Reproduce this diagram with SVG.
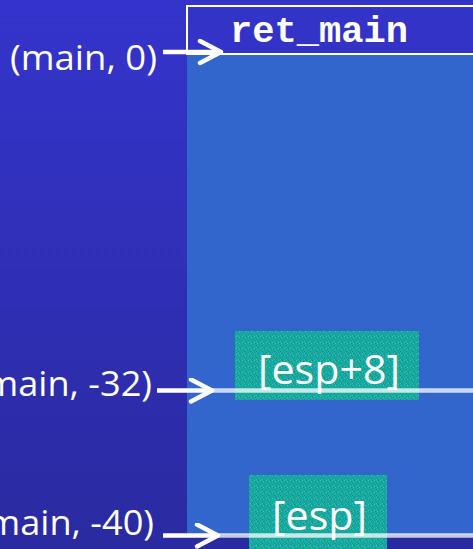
<svg xmlns="http://www.w3.org/2000/svg" width="473" height="549" viewBox="0 0 473 549">
  <defs>
    <linearGradient id="bg" x1="0" y1="0" x2="0" y2="1">
      <stop offset="0" stop-color="#3434cc"/>
      <stop offset="1" stop-color="#2a2aa0"/>
    </linearGradient>
    <!-- dithered teal fill for the register slots -->
    <pattern id="dither" width="6" height="6" patternUnits="userSpaceOnUse">
      <rect width="6" height="6" fill="#12b196"/>
      <rect x="0" y="0" width="1" height="1" fill="#3a6fc6"/>
      <rect x="3" y="1" width="1" height="1" fill="#3a6fc6"/>
      <rect x="1" y="2" width="1" height="1" fill="#2f8cb8"/>
      <rect x="4" y="3" width="1" height="1" fill="#3a6fc6"/>
      <rect x="2" y="4" width="1" height="1" fill="#2f8cb8"/>
      <rect x="5" y="5" width="1" height="1" fill="#3a6fc6"/>
      <rect x="5" y="1" width="1" height="1" fill="#1fd0a8"/>
      <rect x="2" y="0" width="1" height="1" fill="#1fd0a8"/>
      <rect x="0" y="4" width="1" height="1" fill="#2f8cb8"/>
      <rect x="4" y="5" width="1" height="1" fill="#1fd0a8"/>
    </pattern>
    <marker id="head" markerUnits="userSpaceOnUse" markerWidth="30" markerHeight="30" refX="24" refY="13" orient="auto" viewBox="0 0 30 30">
      <path d="M3,2 L24,13 L3,24" fill="none" stroke="#ffffff" stroke-width="4.5" stroke-linecap="round" stroke-linejoin="round"/>
    </marker>
    <style>
      .label { font-family: "Open Sans", "DejaVu Sans", sans-serif; fill: #ffffff; font-size: 34px; }
      .slot { fill: url(#dither); }
      .slotText { font-family: "Open Sans", "DejaVu Sans", sans-serif; fill: #ffffff; font-size: 40px; }
      .code { font-family: "Liberation Mono", "Courier New", monospace; font-weight: bold; fill: #ffffff; font-size: 36px; }
      .wire { stroke: #ffffff; stroke-width: 4.5; fill: none; }
    </style>
  </defs>

  <!-- background and stack frame -->
  <rect width="473" height="549" fill="url(#bg)"/>
  <rect x="187" y="55" width="286" height="480" fill="#3366cc"/>

  <g id="ret-main">
    <rect x="187" y="6" width="290" height="48" fill="#3333c8" stroke="#ffffff" stroke-width="2"/>
    <text class="code" x="230" y="42" textLength="178" lengthAdjust="spacingAndGlyphs">ret_main</text>
  </g>

  <g id="slot-esp8">
    <rect class="slot" x="235" y="331" width="184" height="69"/>
    <text class="slotText" x="258" y="384" textLength="142" lengthAdjust="spacingAndGlyphs">[esp+8]</text>
  </g>

  <g id="slot-esp">
    <rect class="slot" x="249" y="475" width="138" height="74"/>
    <text class="slotText" x="272" y="530" textLength="95" lengthAdjust="spacingAndGlyphs">[esp]</text>
  </g>

  <g id="label-main0">
    <text class="label" x="157" y="70" text-anchor="end" textLength="147" lengthAdjust="spacingAndGlyphs">(main, 0)</text>
  </g>
  <g id="label-main32">
    <text class="label" x="152" y="396" text-anchor="end" textLength="178" lengthAdjust="spacingAndGlyphs">(main, -32)</text>
  </g>
  <g id="label-main40">
    <text class="label" x="154" y="535" text-anchor="end" textLength="178" lengthAdjust="spacingAndGlyphs">(main, -40)</text>
  </g>

  <g id="connectors">
    <path class="wire" d="M163,52 L221,52" marker-end="url(#head)"/>
    <path class="wire" d="M157,390.5 L212,390.5" marker-end="url(#head)"/>
    <path class="wire" d="M212,390.5 L473,390.5" opacity="0.75"/>
    <path class="wire" d="M163,535.5 L218,535.5" marker-end="url(#head)"/>
    <path class="wire" d="M218,535.5 L473,535.5" opacity="0.75"/>
  </g>
</svg>
